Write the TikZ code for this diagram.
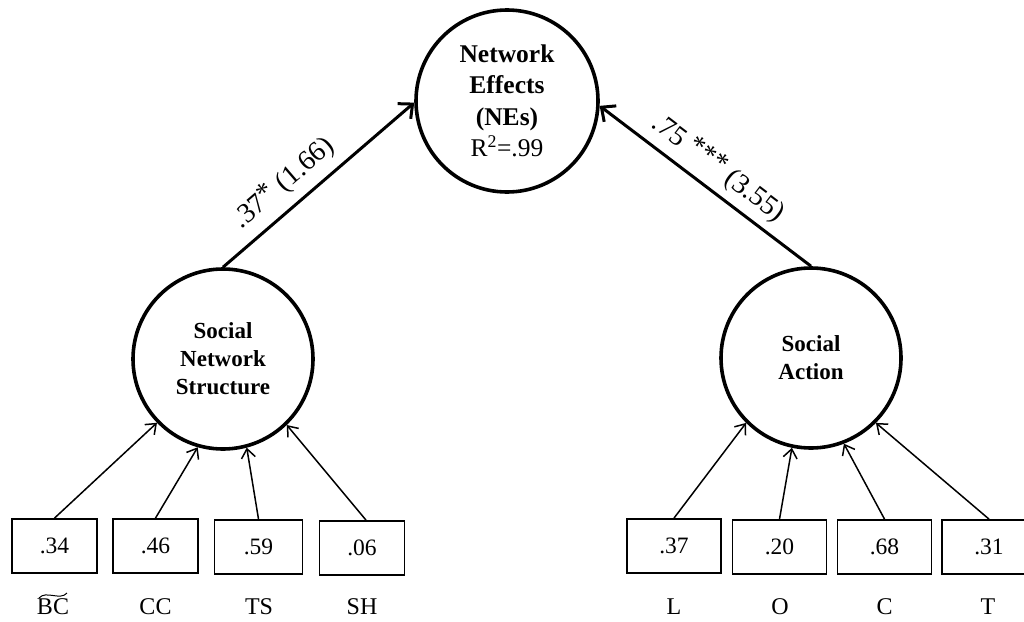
\documentclass[tikz,border=0pt]{standalone}
\usepackage{fontspec}
\setmainfont{Liberation Serif}
\usetikzlibrary{arrows.meta}

\newcommand{\starmark}[1]{\raisebox{4pt}{#1}}

\begin{document}
\begin{tikzpicture}[x=1pt,y=-1pt,
  latent/.style={circle, draw, line width=3.6pt, inner sep=0pt,
    minimum size=#1, align=center},
  latent/.default=180pt,
  indicator/.style={rectangle, draw, line width=1.8pt, inner sep=0pt,
    minimum height=54pt, minimum width=#1,
    font=\fontsize{23.5}{27}\selectfont},
  indicator/.default=85pt,
  varname/.style={font=\fontsize{24}{28}\selectfont, inner sep=0pt},
  mainpath/.style={line width=3pt,
    -{Straight Barb[length=11pt,width=20pt,line width=3pt]}},
  loading/.style={line width=1.5pt,
    -{Straight Barb[length=9pt,width=14pt,line width=1.5pt]}},
  coef/.style={font=\fontsize{28}{32}\selectfont, sloped, inner sep=1pt}
]
\useasboundingbox (0,0) rectangle (1024,621);
\clip (0,0) rectangle (1024,621);

% latent constructs
\node[latent=182pt, font=\fontsize{25.5}{31.5}\selectfont] (ne) at (507,101)
  {\bfseries Network\\ \bfseries Effects\\ \bfseries (NEs)\\ R\textsuperscript{2}=.99};
\node[latent, font=\bfseries\fontsize{23}{28}\selectfont] (sns) at (223,359)
  {Social\\ Network\\ Structure};
\node[latent, font=\bfseries\fontsize{23}{28}\selectfont] (sa) at (811,358)
  {Social\\ Action};

% structural paths
\draw[mainpath] (sns.north) --
  node[coef, pos=0.4, above=8pt] {.37\starmark{*} (1.66)} (ne.181);
\draw[mainpath] (sa.north) --
  node[coef, pos=0.5, above=6pt] {.75 \starmark{***} (3.55)} (ne.357.6);

% indicators of social network structure
\node[indicator] (bc) at (54.5,546) {.34};
\node[indicator] (cc) at (155.5,546) {.46};
\node[indicator=88pt] (ts) at (258.5,547) {.59};
\node[indicator] (sh) at (362,548) {.06};

% indicators of social action
\node[indicator=94pt] (l) at (674,546) {.37};
\node[indicator=94pt] (o) at (779.5,547) {.20};
\node[indicator=94pt] (c) at (884.5,547) {.68};
\node[indicator=94pt] (t) at (989,547) {.31};

% indicator names
\node[varname] (bcn) at (53,607) {BC};
\draw[line width=1pt] (39,598) .. controls (46,590) and (60,601) .. (67,593);
\node[varname] (ccn) at (155.5,607) {CC};
\node[varname] (tsn) at (259,607) {TS};
\node[varname] (shn) at (362,607) {SH};
\node[varname] (ln) at (674,607) {L};
\node[varname] (on) at (780,607) {O};
\node[varname] (cn) at (884.5,607) {C};
\node[varname] (tn) at (988,607) {T};

% loadings
\draw[loading] (bc.north) -- (sns.224.6);
\draw[loading] (cc.north) -- (sns.254);
\draw[loading] (ts.north) -- (sns.285);
\draw[loading] ([xshift=4pt]sh.north) -- (sns.314);
\draw[loading] (l.north) -- (sa.225);
\draw[loading] (o.north) -- (sa.258.6);
\draw[loading] (c.north) -- (sa.291);
\draw[loading] (t.north) -- (sa.315);
\end{tikzpicture}
\end{document}
